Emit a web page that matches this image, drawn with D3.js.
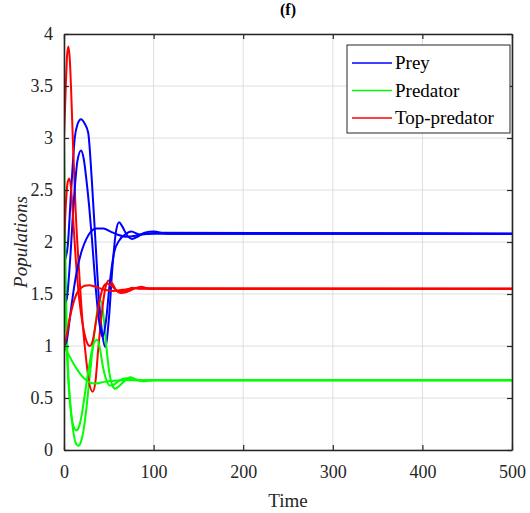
<!DOCTYPE html>
<html>
<head>
<meta charset="utf-8">
<script src="https://cdn.jsdelivr.net/npm/d3@7"></script>
<style>
  body { margin: 0; background: #fff; }
  svg text { font-family: "Liberation Serif", "Times New Roman", serif !important; }
</style>
</head>
<body>
<div id="chart-area"></div>
<script>
// three runs from different starting points, each a list of [time, value]
var preyA = [[0,1.8],[4,1.95],[8,2.5],[12,3.0],[15,3.13],[19,3.18],[23,3.14],[27,3.05],[31,2.6],[35,2.02],[39,1.45],[43,1.1],[46,0.99],[50,1.25],[54,1.75],[58,2.1],[61.5,2.19],[65,2.15],[70,2.07],[76,2.03],[82,2.05],[90,2.09],[100,2.1],[115,2.08],[500,2.08]];
var preyB = [[0,1.4],[3,1.45],[7,1.85],[11,2.4],[15,2.78],[19,2.88],[22,2.8],[25,2.6],[28,2.35],[31,2.05],[35,1.6],[39,1.25],[43,1.09],[47,1.25],[51,1.6],[56,1.9],[62,2.02],[68,2.07],[75,2.1],[85,2.07],[95,2.08],[105,2.09],[500,2.08]];
var preyC = [[0,1.0],[3,1.05],[7,1.3],[11,1.55],[15,1.75],[20,1.92],[25,2.03],[30,2.1],[36,2.13],[44,2.13],[52,2.1],[60,2.07],[70,2.05],[80,2.06],[90,2.08],[500,2.08]];

var predA = [[0,3.0],[1,2.2],[2,1.6],[4,0.9],[7,0.45],[10,0.2],[13,0.07],[16,0.04],[19,0.08],[22,0.2],[25,0.4],[28,0.65],[31,0.9],[35,1.2],[38,1.38],[41,1.44],[44,1.3],[47,1.02],[50,0.78],[54,0.62],[57,0.59],[61,0.61],[67,0.66],[74,0.7],[80,0.68],[88,0.66],[100,0.67],[500,0.67]];
var predB = [[0,2.2],[1.5,1.5],[3,1.0],[5,0.65],[8,0.35],[11,0.22],[14,0.19],[17,0.23],[20,0.35],[23,0.52],[27,0.75],[31,0.95],[34,1.04],[37,1.06],[40,0.98],[43,0.82],[47,0.68],[51,0.62],[56,0.63],[62,0.67],[70,0.69],[80,0.67],[500,0.67]];
var predC = [[0,1.0],[5,0.92],[10,0.84],[15,0.77],[20,0.71],[25,0.67],[30,0.645],[36,0.64],[45,0.655],[55,0.665],[65,0.67],[500,0.67]];

var topA = [[0,3.0],[2,3.5],[3.5,3.8],[5,3.88],[6.5,3.75],[8,3.45],[10,2.95],[13,2.3],[17,1.7],[21,1.2],[25,0.85],[28,0.65],[32,0.56],[35,0.65],[38,0.95],[42,1.3],[46,1.55],[50,1.63],[54,1.6],[58,1.54],[63,1.51],[70,1.52],[78,1.55],[86,1.57],[95,1.55],[500,1.55]];
var topB = [[0,2.0],[2,2.35],[4,2.57],[6,2.61],[8,2.5],[10,2.25],[13,1.85],[17,1.45],[21,1.2],[25,1.05],[29,1.0],[32,1.05],[36,1.25],[40,1.45],[44,1.57],[48,1.6],[53,1.58],[60,1.53],[68,1.53],[76,1.56],[85,1.55],[500,1.55]];
var topC = [[0,1.0],[3,1.1],[6,1.25],[10,1.4],[14,1.5],[18,1.55],[23,1.58],[28,1.585],[35,1.57],[45,1.54],[55,1.53],[65,1.54],[80,1.555],[500,1.55]];

var xTicks = [0, 100, 200, 300, 400, 500];
var yTicks = [0, 0.5, 1, 1.5, 2, 2.5, 3, 3.5, 4];
var legendNames = ["Prey", "Predator", "Top-predator"];
var colors = ["#0000ff", "#00ff00", "#ff0000"];

var svg = d3.select("#chart-area")
  .append("svg")
  .attr("width", 530)
  .attr("height", 513);

var margin = { top: 34, right: 18, bottom: 63, left: 64 };
var width = 530 - margin.left - margin.right;
var height = 513 - margin.top - margin.bottom;

var g = svg.append("g")
  .attr("transform", "translate(" + margin.left + "," + margin.top + ")");

var x = d3.scaleLinear().domain([0, 500]).range([0, width]);
var y = d3.scaleLinear().domain([0, 4]).range([height, 0]);

// grid
g.selectAll(".gx").data(xTicks).enter().append("line")
  .attr("x1", function(d) { return x(d); })
  .attr("x2", function(d) { return x(d); })
  .attr("y1", 0).attr("y2", height)
  .attr("stroke", "#dedede").attr("stroke-width", 1);
g.selectAll(".gy").data(yTicks).enter().append("line")
  .attr("x1", 0).attr("x2", width)
  .attr("y1", function(d) { return y(d); })
  .attr("y2", function(d) { return y(d); })
  .attr("stroke", "#dedede").attr("stroke-width", 1);

svg.append("clipPath").attr("id", "clip")
  .append("rect").attr("width", width).attr("height", height);

var line = d3.line()
  .x(function(d) { return x(d[0]); })
  .y(function(d) { return y(d[1]); })
  .curve(d3.curveMonotoneX);

var runs = [[preyA, predA, topA], [preyB, predB, topB], [preyC, predC, topC]];
var plot = g.append("g")
  .attr("clip-path", "url(#clip)");

runs.forEach(function(run) {
  run.forEach(function(series, i) {
    plot.append("path")
      .datum(series)
      .attr("d", line)
      .attr("fill", "none")
      .attr("stroke", colors[i])
      .attr("stroke-width", 2);
  });
});

// axes, MATLAB box style with ticks inside
g.append("g")
  .attr("transform", "translate(0," + height + ")")
  .call(d3.axisBottom(x).tickValues(xTicks).tickSizeInner(-5).tickSizeOuter(0).tickPadding(15));
g.append("g")
  .call(d3.axisLeft(y).tickValues(yTicks).tickSizeInner(-5).tickSizeOuter(0).tickPadding(11)
    .tickFormat(function(d) { return d; }));
g.append("g")
  .call(d3.axisTop(x).tickValues(xTicks).tickSizeInner(-5).tickSizeOuter(0).tickFormat(""));
g.append("g")
  .attr("transform", "translate(" + width + ",0)")
  .call(d3.axisRight(y).tickValues(yTicks).tickSizeInner(-5).tickSizeOuter(0).tickFormat(""));

g.selectAll("g").attr("font-family", "Liberation Serif").attr("font-size", 18);
g.selectAll(".domain").attr("stroke", "#262626").attr("stroke-width", 1.6);
g.selectAll(".tick line").attr("stroke", "#262626").attr("stroke-width", 1.2);
g.selectAll(".tick text").attr("fill", "#262626");

// labels
svg.append("text")
  .attr("x", margin.left + width / 2)
  .attr("y", 507)
  .attr("text-anchor", "middle")
  .attr("fill", "#262626")
  .style("font-size", "19px")
  .text("Time");

svg.append("text")
  .attr("transform", "translate(27," + (margin.top + height / 2) + ") rotate(-90)")
  .attr("text-anchor", "middle")
  .attr("fill", "#262626")
  .style("font-size", "19px")
  .style("font-style", "italic")
  .text("Populations");

svg.append("text")
  .attr("x", margin.left + width / 2)
  .attr("y", 15)
  .attr("text-anchor", "middle")
  .attr("fill", "#000")
  .style("font-size", "16px")
  .style("font-weight", "bold")
  .text("(f)");

// legend
var lg = svg.append("g").attr("transform", "translate(347,45)");
lg.append("rect")
  .attr("width", 163).attr("height", 88)
  .attr("fill", "#fff")
  .attr("stroke", "#262626").attr("stroke-width", 1);
legendNames.forEach(function(name, i) {
  var yy = 18 + i * 27.5;
  lg.append("line")
    .attr("x1", 5).attr("x2", 45)
    .attr("y1", yy).attr("y2", yy)
    .attr("stroke", colors[i]).attr("stroke-width", 1.7);
  lg.append("text")
    .attr("x", 48).attr("y", yy + 6)
    .attr("fill", "#000")
    .style("font-size", "19px")
    .text(name);
});
</script>
</body>
</html>
